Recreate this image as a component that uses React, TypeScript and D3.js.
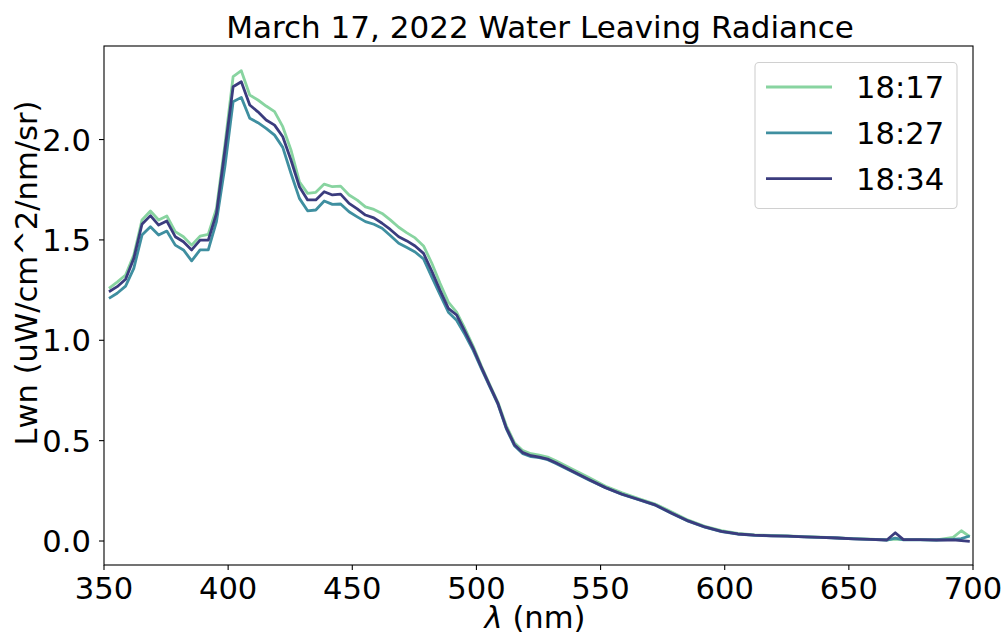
import React from "react";
import * as d3 from "d3";

// Wavelength grid (nm)
const wavelengths = [
  352, 355.3, 358.7, 362, 365.3, 368.7, 372, 375.3, 378.7, 382, 385.3, 388.7, 392, 395.3, 398.7,
  402, 405.3, 408.7, 412, 415.3, 418.7, 422, 425.3, 428.7, 432, 435.3, 438.7, 442, 445.3, 448.7,
  452, 455.3, 458.7, 462, 465.3, 468.7, 472, 475.3, 478.7, 482, 485.3, 488.7, 492, 495.3, 498.7,
  502, 505.3, 508.7, 512, 515.3, 518.7, 522, 525.3, 528.7, 532, 538.7, 545.3, 552, 558.7, 565.3,
  572, 578.7, 585.3, 592, 598.7, 605.3, 612, 618.7, 625.3, 632, 638.7, 645.3, 652, 658.7, 665.3,
  668.7, 672, 678.7, 685.3, 692, 695.3, 698.7,
];

// Normalized water leaving radiance at 18:17
const lwn1817 = [
  1.259, 1.29, 1.325, 1.425, 1.599, 1.644, 1.599, 1.619, 1.541, 1.516, 1.474, 1.519, 1.528, 1.657, 1.975,
  2.313, 2.343, 2.222, 2.197, 2.167, 2.139, 2.064, 1.948, 1.79, 1.732, 1.737, 1.778, 1.765, 1.768, 1.724,
  1.698, 1.665, 1.652, 1.632, 1.6, 1.563, 1.535, 1.51, 1.47, 1.385, 1.285, 1.19, 1.14, 1.06, 0.97,
  0.872, 0.78, 0.69, 0.575, 0.49, 0.45, 0.435, 0.428, 0.418, 0.4, 0.357, 0.316, 0.273, 0.24, 0.211,
  0.184, 0.145, 0.104, 0.073, 0.052, 0.038, 0.031, 0.028, 0.026, 0.022, 0.019, 0.016, 0.012, 0.009, 0.006,
  0.01, 0.008, 0.007, 0.006, 0.018, 0.051, 0.022,
];

// Normalized water leaving radiance at 18:27
const lwn1827 = [
  1.209, 1.234, 1.27, 1.358, 1.524, 1.566, 1.524, 1.544, 1.474, 1.45, 1.396, 1.45, 1.45, 1.591, 1.865,
  2.188, 2.21, 2.106, 2.084, 2.056, 2.022, 1.961, 1.832, 1.707, 1.645, 1.649, 1.694, 1.677, 1.679, 1.64,
  1.615, 1.591, 1.578, 1.558, 1.522, 1.483, 1.462, 1.44, 1.405, 1.315, 1.228, 1.14, 1.1, 1.03, 0.95,
  0.858, 0.77, 0.68, 0.56, 0.475, 0.435, 0.42, 0.415, 0.405, 0.386, 0.345, 0.304, 0.265, 0.232, 0.206,
  0.179, 0.137, 0.099, 0.069, 0.047, 0.034, 0.028, 0.026, 0.024, 0.021, 0.018, 0.015, 0.011, 0.008, 0.005,
  0.014, 0.006, 0.006, 0.005, 0.008, 0.012, 0.025,
];

// Normalized water leaving radiance at 18:34
const lwn1834 = [
  1.242, 1.267, 1.304, 1.408, 1.578, 1.621, 1.574, 1.594, 1.516, 1.491, 1.45, 1.499, 1.499, 1.632, 1.948,
  2.263, 2.288, 2.172, 2.138, 2.097, 2.072, 2.014, 1.898, 1.765, 1.699, 1.699, 1.74, 1.724, 1.728, 1.682,
  1.655, 1.624, 1.61, 1.583, 1.552, 1.516, 1.495, 1.47, 1.433, 1.345, 1.25, 1.159, 1.126, 1.045, 0.96,
  0.865, 0.775, 0.684, 0.565, 0.48, 0.44, 0.425, 0.418, 0.408, 0.39, 0.347, 0.306, 0.266, 0.233, 0.207,
  0.18, 0.138, 0.1, 0.07, 0.048, 0.035, 0.029, 0.026, 0.024, 0.021, 0.018, 0.015, 0.011, 0.008, 0.005,
  0.041, 0.007, 0.007, 0.005, 0.006, 0.002, -0.002,
];

const seriesNames = ["18:17", "18:27", "18:34"];
const seriesColors = ["#88d4a0", "#3f8fa0", "#3b3c7e"];
const seriesValues = [lwn1817, lwn1827, lwn1834];

const xTicks = [350, 400, 450, 500, 550, 600, 650, 700];
const yTicks = [0.0, 0.5, 1.0, 1.5, 2.0];

const W = 1003;
const H = 637;
const plot = { left: 104, right: 973, top: 46, bottom: 565 };
const FONT = "'DejaVu Sans', sans-serif";
const FS = 30.6;

export default function App() {
  const x = d3.scaleLinear().domain([350, 700]).range([plot.left, plot.right]);
  const y = d3.scaleLinear().domain([-0.1195, 2.466]).range([plot.bottom, plot.top]);

  const line = d3
    .line<[number, number]>()
    .x((d) => x(d[0]))
    .y((d) => y(d[1]));

  const legend = { x: 755, y: 62.5, w: 202, h: 146 };

  return (
    <svg
      width={W}
      height={H}
      style={{ position: "absolute", left: 0, top: 0, background: "#fff" }}
      fontFamily={FONT}
    >
      <defs>
        <clipPath id="plot-clip">
          <rect x={plot.left} y={plot.top} width={plot.right - plot.left} height={plot.bottom - plot.top} />
        </clipPath>
      </defs>

      <text x={540} y={38} fontSize={31} textAnchor="middle" fill="#000">
        March 17, 2022 Water Leaving Radiance
      </text>

      <g clipPath="url(#plot-clip)">
        {seriesValues.map((vals, i) => (
          <path
            key={seriesNames[i]}
            d={line(wavelengths.map((w, j) => [w, vals[j]] as [number, number])) || ""}
            fill="none"
            stroke={seriesColors[i]}
            strokeWidth={2.8}
            strokeLinejoin="round"
          />
        ))}
      </g>

      {/* spines */}
      <rect
        x={plot.left}
        y={plot.top}
        width={plot.right - plot.left}
        height={plot.bottom - plot.top}
        fill="none"
        stroke="#000"
        strokeWidth={1.1}
      />

      {/* x axis */}
      {xTicks.map((t) => (
        <g key={`x${t}`}>
          <line x1={x(t)} x2={x(t)} y1={plot.bottom} y2={plot.bottom + 5} stroke="#000" strokeWidth={1.1} />
          <text x={x(t)} y={599} fontSize={FS} textAnchor="middle" fill="#000">
            {t}
          </text>
        </g>
      ))}
      <text x={535} y={628} fontSize={FS} textAnchor="middle" fill="#000">
        <tspan fontStyle="italic">λ</tspan> (nm)
      </text>

      {/* y axis */}
      {yTicks.map((t) => (
        <g key={`y${t}`}>
          <line x1={plot.left - 5} x2={plot.left} y1={y(t)} y2={y(t)} stroke="#000" strokeWidth={1.1} />
          <text x={91} y={y(t) + 11} fontSize={FS} textAnchor="end" fill="#000">
            {d3.format(".1f")(t)}
          </text>
        </g>
      ))}
      <text
        transform={`translate(37, 273) rotate(-90)`}
        fontSize={FS}
        textAnchor="middle"
        fill="#000"
      >
        Lwn (uW/cm^2/nm/sr)
      </text>

      {/* legend */}
      <rect
        x={legend.x}
        y={legend.y}
        width={legend.w}
        height={legend.h}
        rx={4}
        fill="#fff"
        fillOpacity={0.8}
        stroke="#d0d0d0"
        strokeWidth={1.1}
      />
      {seriesNames.map((name, i) => {
        const ly = 87 + i * 45.8;
        return (
          <g key={`lg${name}`}>
            <line x1={766} x2={832} y1={ly} y2={ly} stroke={seriesColors[i]} strokeWidth={2.8} />
            <text x={856} y={ly + 11} fontSize={FS} fill="#000">
              {name}
            </text>
          </g>
        );
      })}
    </svg>
  );
}
